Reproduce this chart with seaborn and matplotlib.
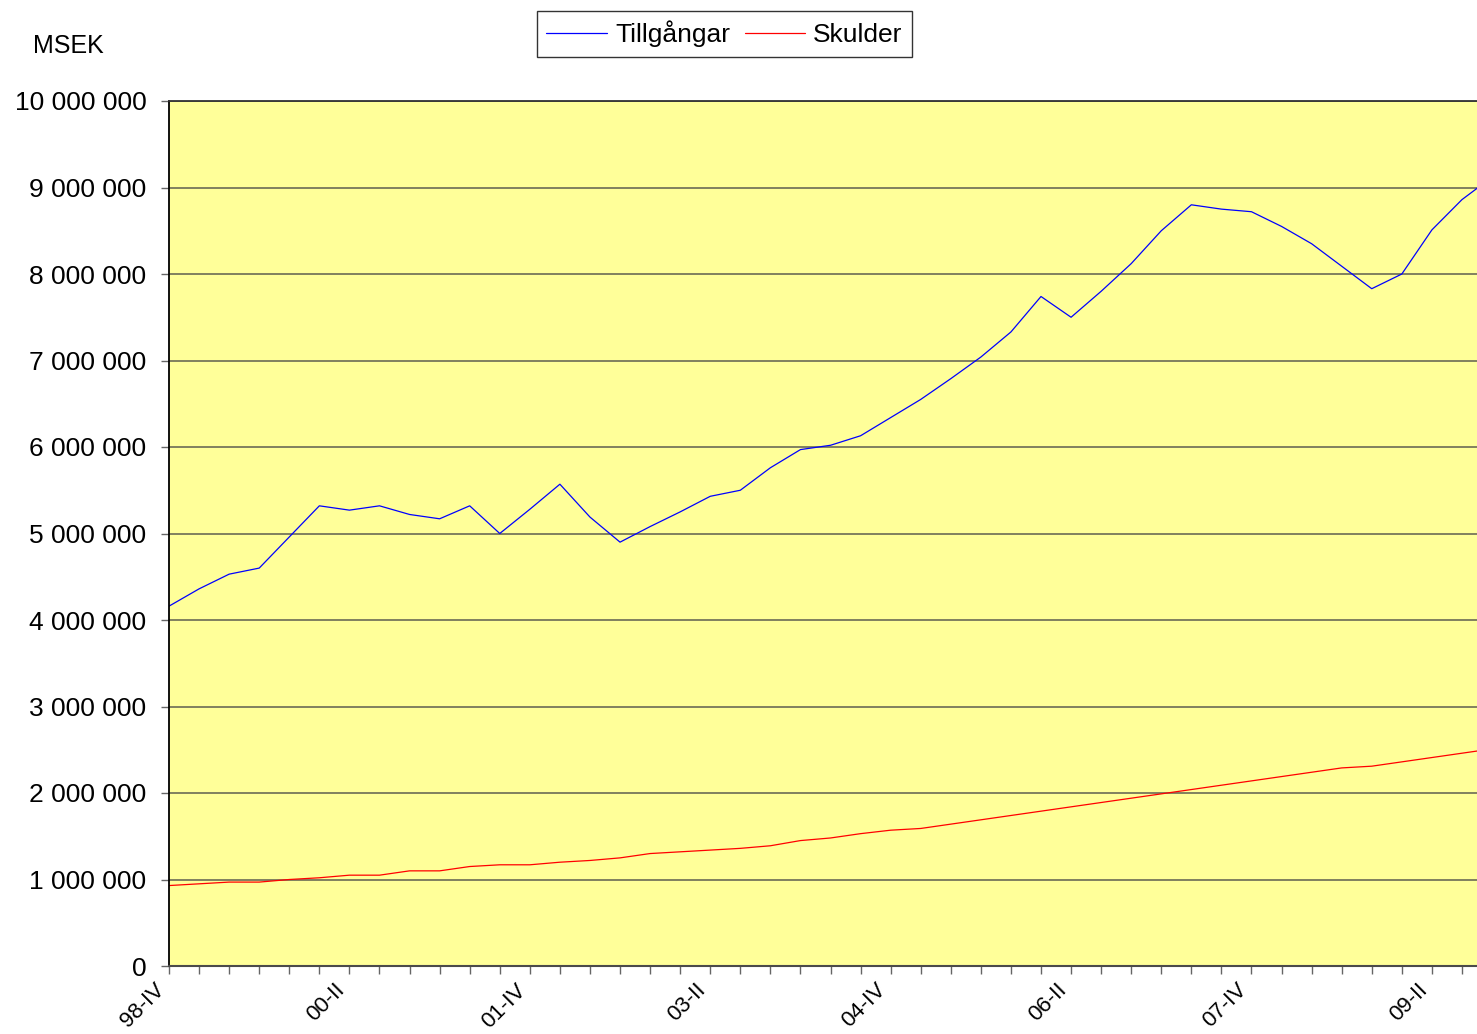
import numpy as np
import pandas as pd
import matplotlib
matplotlib.use('Agg')
import matplotlib.pyplot as plt
import matplotlib.transforms as mtransforms
from matplotlib.ticker import FuncFormatter, MultipleLocator
import seaborn as sns

quarters = ['98-IV',
            '99-I', '99-II', '99-III', '99-IV',
            '00-I', '00-II', '00-III', '00-IV',
            '01-I', '01-II', '01-III', '01-IV',
            '02-I', '02-II', '02-III', '02-IV',
            '03-I', '03-II', '03-III', '03-IV',
            '04-I', '04-II', '04-III', '04-IV',
            '05-I', '05-II', '05-III', '05-IV',
            '06-I', '06-II', '06-III', '06-IV',
            '07-I', '07-II', '07-III', '07-IV',
            '08-I', '08-II', '08-III', '08-IV',
            '09-I', '09-II', '09-III', '09-IV']

# MSEK
tillgangar = [4160000, 4360000, 4530000, 4600000, 4960000, 5320000, 5270000, 5320000,
              5220000, 5170000, 5320000, 5000000, 5280000, 5570000, 5190000, 4900000,
              5080000, 5250000, 5430000, 5500000, 5760000, 5970000, 6020000, 6130000,
              6340000, 6550000, 6790000, 7040000, 7330000, 7740000, 7500000, 7800000,
              8120000, 8500000, 8800000, 8750000, 8720000, 8550000, 8350000, 8090000,
              7830000, 8000000, 8510000, 8860000, 9120000]
skulder = [930000, 950000, 970000, 970000, 1000000, 1020000, 1050000, 1050000,
           1100000, 1100000, 1150000, 1170000, 1170000, 1200000, 1220000, 1250000,
           1300000, 1320000, 1340000, 1360000, 1390000, 1450000, 1480000, 1530000,
           1570000, 1590000, 1640000, 1690000, 1740000, 1790000, 1840000, 1890000,
           1940000, 1990000, 2040000, 2090000, 2140000, 2190000, 2240000, 2290000,
           2310000, 2360000, 2410000, 2460000, 2510000]

sns.set_style('white')
plt.rcParams['font.family'] = ['Liberation Sans', 'DejaVu Sans']
plt.rcParams['text.color'] = 'black'
plt.rcParams['xtick.labelcolor'] = 'black'
plt.rcParams['ytick.labelcolor'] = 'black'

W, H = 1477, 1034
fig = plt.figure(figsize=(W / 100, H / 100), dpi=100)
fig.patch.set_facecolor('white')
ax = fig.add_axes([169 / W, 68 / H, 1308 / W, 865 / H])
ax.set_facecolor('#FFFF99')

x = np.arange(len(quarters))
sns.lineplot(x=x, y=tillgangar, color='#0000FF', linewidth=0.9, label='Tillgångar', ax=ax)
sns.lineplot(x=x, y=skulder, color='#FF0000', linewidth=0.9, label='Skulder', ax=ax)

ax.set_xticks(x)
ax.set_xticklabels([q if i % 6 == 0 else '' for i, q in enumerate(quarters)],
                   rotation=45, ha='right', fontsize=16)
offset = mtransforms.ScaledTranslation(-12 / 100, -7 / 100, fig.dpi_scale_trans)
for lbl in ax.get_xticklabels():
    lbl.set_transform(lbl.get_transform() + offset)

ax.set_xlim(0, 43.5)
ax.set_ylim(0, 10000000)
ax.yaxis.set_major_locator(MultipleLocator(1000000))
ax.yaxis.set_major_formatter(FuncFormatter(lambda v, p: f'{v:,.0f}'.replace(',', ' ')))
ax.grid(axis='y', color='#76765a', linewidth=1.3)
ax.grid(axis='x', visible=False)
ax.set_axisbelow(True)

ax.tick_params(axis='both', direction='out', length=5.8, width=1, color='#666666',
               bottom=True, left=True)
ax.tick_params(axis='y', labelsize=19, pad=10.5)
ax.tick_params(axis='x', pad=4)

ax.spines['left'].set_color('black')
ax.spines['left'].set_linewidth(1.3)
ax.spines['bottom'].set_color('#4a4a4a')
ax.spines['bottom'].set_linewidth(1.5)
ax.spines['top'].set_color('#333333')
ax.spines['top'].set_linewidth(1.3)
ax.spines['right'].set_visible(False)

ax.set_xlabel('')
ax.set_ylabel('')

leg = ax.legend(loc='center', bbox_to_anchor=(724.5 / W, 1 - 34 / H),
                bbox_transform=fig.transFigure, ncol=2, fontsize=19,
                frameon=True, fancybox=False, edgecolor='black',
                handlelength=2.3, handletextpad=0.3, columnspacing=0.55,
                borderpad=0.35, borderaxespad=0)
leg.get_frame().set_linewidth(1.0)
for line in leg.get_lines():
    line.set_linewidth(0.9)

fig.text(33 / W, 1 - 46 / H, 'MSEK', fontsize=18, va='center', ha='left')

fig.savefig('out.png', dpi=100)
